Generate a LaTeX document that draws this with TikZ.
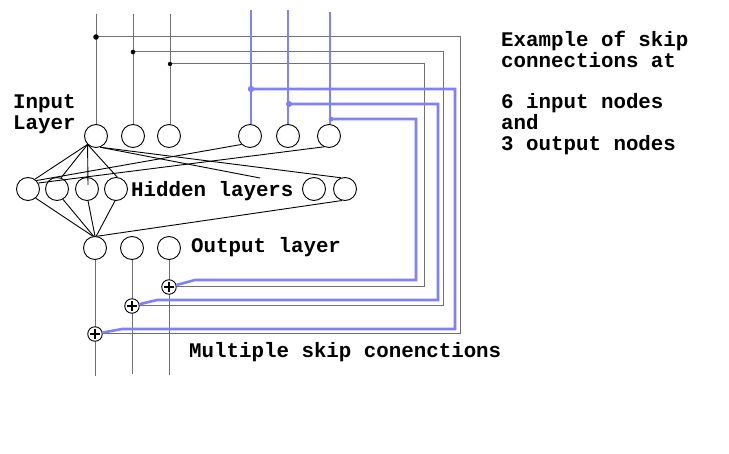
\documentclass[tikz,border=0pt]{standalone}
\usepackage{fontspec}
\newfontfamily\courfont{Liberation Mono}
\definecolor{skipblue}{RGB}{128,128,255}
\definecolor{skipgray}{RGB}{112,112,112}
\begin{document}
\begin{tikzpicture}[x=1pt,y=-1pt,
  neuron/.style={circle,draw,line width=0.9pt,minimum size=23pt,inner sep=0pt},
  plusnode/.style={circle,draw,fill=white,line width=0.9pt,minimum size=14.5pt,inner sep=0pt,
    path picture={
      \draw[line width=2pt] ([xshift=-4.7pt]path picture bounding box.center) -- ([xshift=4.7pt]path picture bounding box.center);
      \draw[line width=2pt] ([yshift=-4.7pt]path picture bounding box.center) -- ([yshift=4.7pt]path picture bounding box.center);}},
  lbl/.style={font=\courfont\bfseries\fontsize{20.8}{21}\selectfont,inner sep=0pt,anchor=base west},
  net/.style={line width=0.9pt},
  gline/.style={draw=skipgray,line width=1pt},
  bline/.style={draw=skipblue,line width=2.6pt},
  bdot/.style={fill=skipblue},
  kdot/.style={fill=black}]
\useasboundingbox (0,0) rectangle (729,454);

% input layer
\node[neuron] (in1) at (96,136) {};
\node[neuron] (in2) at (133,136) {};
\node[neuron] (in3) at (169,136) {};
\node[neuron] (in4) at (250,136) {};
\node[neuron] (in5) at (288,136) {};
\node[neuron] (in6) at (329,136) {};
% hidden layer
\node[neuron] (h1) at (28,189) {};
\node[neuron] (h2) at (57,189) {};
\node[neuron] (h3) at (87,189) {};
\node[neuron] (h4) at (116,189) {};
\node[neuron] (h5) at (314,189) {};
\node[neuron] (h6) at (345,189) {};
% output layer
\node[neuron] (o1) at (95,248) {};
\node[neuron] (o2) at (132,248) {};
\node[neuron] (o3) at (169,248) {};

% labels
\node[lbl] (tin1) at (13,109) {Input};
\node[lbl] (tin2) at (13,130) {Layer};
\node[lbl] (thid) at (131,197) {Hidden layers};
\node[lbl] (tout) at (191,253) {Output layer};
\node[lbl] (tmul) at (189,358) {Multiple skip conenctions};
\node[lbl] (ex1) at (501,47) {Example of skip};
\node[lbl] (ex2) at (501,68) {connections at};
\node[lbl] (ex3) at (501,109) {6 input nodes};
\node[lbl] (ex4) at (501,130) {and};
\node[lbl] (ex5) at (501,151) {3 output nodes};

% coordinates
\coordinate (t1) at (96,14);
\coordinate (t2) at (133,14);
\coordinate (t3) at (170,14);
\coordinate (tb4) at (251,10);
\coordinate (tb5) at (288,10);
\coordinate (tb6) at (330,12);
\coordinate (d1) at (96,37);
\coordinate (d2) at (133,52);
\coordinate (d3) at (170,64);
\coordinate (b4) at (251,89);
\coordinate (b5) at (289,104);
\coordinate (b6) at (331,119);
\coordinate (r1) at (460,334);
\coordinate (r2) at (443,306);
\coordinate (r3) at (424,287);
\coordinate (s1) at (455,329);
\coordinate (s2) at (438,300);
\coordinate (s3) at (416,280);
\coordinate (k3) at (122,329);
\coordinate (k2) at (157,300);
\coordinate (k1) at (195,280);
\coordinate (ob1) at (95,376);
\coordinate (ob2) at (132,374);
\coordinate (ob3) at (169,375);
\coordinate (hx) at (88,185);
\coordinate (e1) at (260,178);

% network connections
\draw[net] (in1.225) -- (h1.55);
\draw[net] (in1.225) -- (h2.70);
\draw[net] (in1.225) -- (hx);
\draw[net] (in1.225) -- (h4.84);
\draw[net] (in1.290) -- (e1);
\draw[net] (in1.290) -- (h6.110);
\draw[net] (in4.225) -- (h1.45);
\draw[net] (in6.245) -- (h1.30);
\draw[net] (h1.-50) -- (o1.100);
\draw[net] (h2.-60) -- (o1.97);
\draw[net] (h3.-85) -- (o1.north);
\draw[net] (h4.265) -- (o1.84);
\draw[net] (h6.255) -- (o1.80);

% vertical feeds
\draw[gline] (t1) -- (in1);
\draw[gline] (t2) -- (in2);
\draw[gline] (t3) -- (t3 |- in3.north);
\draw[gline] (o1) -- (ob1);
\draw[gline] (o2) -- (ob2);
\draw[gline] (o3) -- (ob3);

% adders
\node[plusnode] (p1) at (169,287) {};
\node[plusnode] (p2) at (132,306) {};
\node[plusnode] (p3) at (95,334) {};

% gray skip connections
\draw[gline] (d1) -| (r1) -- (p3);
\draw[gline] (d2) -| (r2) -- (p2);
\draw[gline] (d3) -| (r3) -- (p1);
\fill[kdot] (d1) circle (2.8pt);
\fill[kdot] (d2) circle (2.3pt);
\fill[kdot] (d3) circle (2.2pt);

% blue skip connections
\draw[bline] (tb4) -- (tb4 |- in4.north);
\draw[bline] (tb5) -- (tb5 |- in5.north);
\draw[bline] (tb6) -- (tb6 |- in6.north);
\draw[bline] (b4) -| (s1) -- (k3) -- (p3);
\draw[bline] (b5) -| (s2) -- (k2) -- (p2);
\draw[bline] (b6) -| (s3) -- (k1) -- (p1);
\fill[bdot] (b4) circle (3.2pt);
\fill[bdot] (b5) circle (3pt);
\fill[bdot] (b6) circle (2.4pt);
\end{tikzpicture}
\end{document}
